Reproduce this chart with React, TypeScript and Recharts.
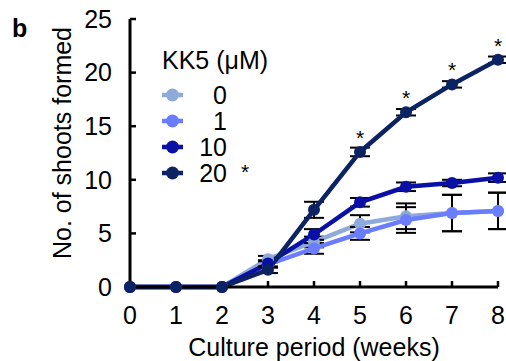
import React from 'react';
import { LineChart, Line, XAxis, YAxis, ErrorBar, LabelList } from 'recharts';

const weeks = [0, 1, 2, 3, 4, 5, 6, 7, 8];
const s0 = [0, 0, 0, 2.6, 4.2, 5.9, 6.6, 6.9, 7.1];
const s1 = [0, 0, 0, 2.1, 3.6, 5.0, 6.25, 6.9, 7.1];
const s10 = [0, 0, 0, 2.2, 4.9, 7.9, 9.35, 9.7, 10.2];
const s20 = [0, 0, 0, 1.6, 7.2, 12.6, 16.3, 18.9, 21.2];
const e0 = [0, 0, 0, 0.3, 0.5, 0.8, 1.2, 1.7, 1.7];
const e1 = [0, 0, 0, 0.3, 0.5, 0.6, 1.2, 1.7, 1.7];
const e10 = [0, 0, 0, 0.3, 0.5, 0.4, 0.4, 0.3, 0.4];
const e20 = [0, 0, 0, 0.3, 0.75, 0.4, 0.3, 0.3, 0.3];
const sig20 = ['', '', '', '', '', '*', '*', '*', '*'];
const yTicks = [0, 5, 10, 15, 20, 25];

const seriesNames = ['0', '1', '10', '20'];
const seriesColors = ['#8eaadb', '#6a7dff', '#0a0fa6', '#0b2363'];
const legendStars = ['', '', '', '*'];
const legendTitle = 'KK5 (μM)';
const xTitle = 'Culture period (weeks)';
const yTitle = 'No. of shoots formed';
const panelLabel = 'b';

const data = weeks.map((w, i) => ({
  week: w,
  s0: s0[i], s1: s1[i], s10: s10[i], s20: s20[i],
  e0: e0[i], e1: e1[i], e10: e10[i], e20: e20[i],
  sig: sig20[i],
}));

const FONT = '"Liberation Sans", Arial, sans-serif';

const Overlay = () => (
  <svg width={506} height={361} style={{ position: 'absolute', left: 0, top: 0, pointerEvents: 'none' }}>
    <text x={12} y={37} fontSize={25} fontWeight="bold" fontFamily={FONT} fill="#000">{panelLabel}</text>
    <text x={162} y={69} fontSize={25} fontFamily={FONT} fill="#000">{legendTitle}</text>
    {seriesNames.map((n, i) => {
      const cy = 95 + i * 26;
      return (
        <g key={n}>
          <line x1={162} y1={cy} x2={183} y2={cy} stroke={seriesColors[i]} strokeWidth={4.5} />
          <circle cx={172.5} cy={cy} r={6.5} fill={seriesColors[i]} />
          <text x={227} y={cy + 9} textAnchor="end" fontSize={25} fontFamily={FONT} fill="#000">{n}</text>
          {legendStars[i] && (
            <text x={245} y={cy + 6} textAnchor="middle" fontSize={21} fontFamily={FONT} fill="#000">{legendStars[i]}</text>
          )}
        </g>
      );
    })}
    <text
      x={62}
      y={143}
      transform="rotate(-90, 62, 143)"
      textAnchor="middle"
      dy={9}
      fontSize={25}
      fontFamily={FONT}
      fill="#000"
    >
      {yTitle}
    </text>
    <text x={314} y={356} textAnchor="middle" fontSize={25} fontFamily={FONT} fill="#000">{xTitle}</text>
  </svg>
);

const Star = (props: any) => {
  const { x, y, value } = props;
  if (!value) return null;
  return (
    <text x={x} y={y - 7} textAnchor="middle" fontSize={21} fontFamily={FONT} fill="#000">
      {value}
    </text>
  );
};

export default function App() {
  const keys = ['s0', 's1', 's10', 's20'];
  const errs = ['e0', 'e1', 'e10', 'e20'];
  return (
    <div style={{ position: 'absolute', left: 0, top: 0, width: 506, height: 361, background: '#fff' }}>
      <LineChart width={506} height={361} data={data} margin={{ top: 19, right: 8, bottom: 14, left: 80 }}>
        <XAxis
          dataKey="week"
          type="number"
          domain={[0, 8]}
          ticks={weeks}
          interval={0}
          height={60}
          axisLine={{ stroke: '#000', strokeWidth: 3 }}
          tickLine={{ stroke: '#000', strokeWidth: 2.5 }}
          tickSize={-6}
          tickMargin={25}
          tick={{ fill: '#000', fontSize: 25, fontFamily: FONT }}
        />
        <YAxis
          type="number"
          domain={[0, 25]}
          ticks={yTicks}
          interval={0}
          width={50}
          axisLine={{ stroke: '#000', strokeWidth: 3 }}
          tickLine={{ stroke: '#000', strokeWidth: 2.5 }}
          tickSize={-6}
          tickMargin={24}
          tick={{ fill: '#000', fontSize: 25, fontFamily: FONT }}
        />
        {keys.map((k, i) => (
          <Line
            key={k}
            dataKey={k}
            name={seriesNames[i]}
            stroke={seriesColors[i]}
            strokeWidth={4.5}
            dot={{ r: 6, fill: seriesColors[i], stroke: seriesColors[i], strokeWidth: 0 }}
            activeDot={false}
            isAnimationActive={false}
          >
            <ErrorBar dataKey={errs[i]} width={10} stroke="#000" strokeWidth={2} direction="y" />
            {k === 's20' && <LabelList dataKey="sig" content={Star} />}
          </Line>
        ))}
      </LineChart>
      <Overlay />
    </div>
  );
}
